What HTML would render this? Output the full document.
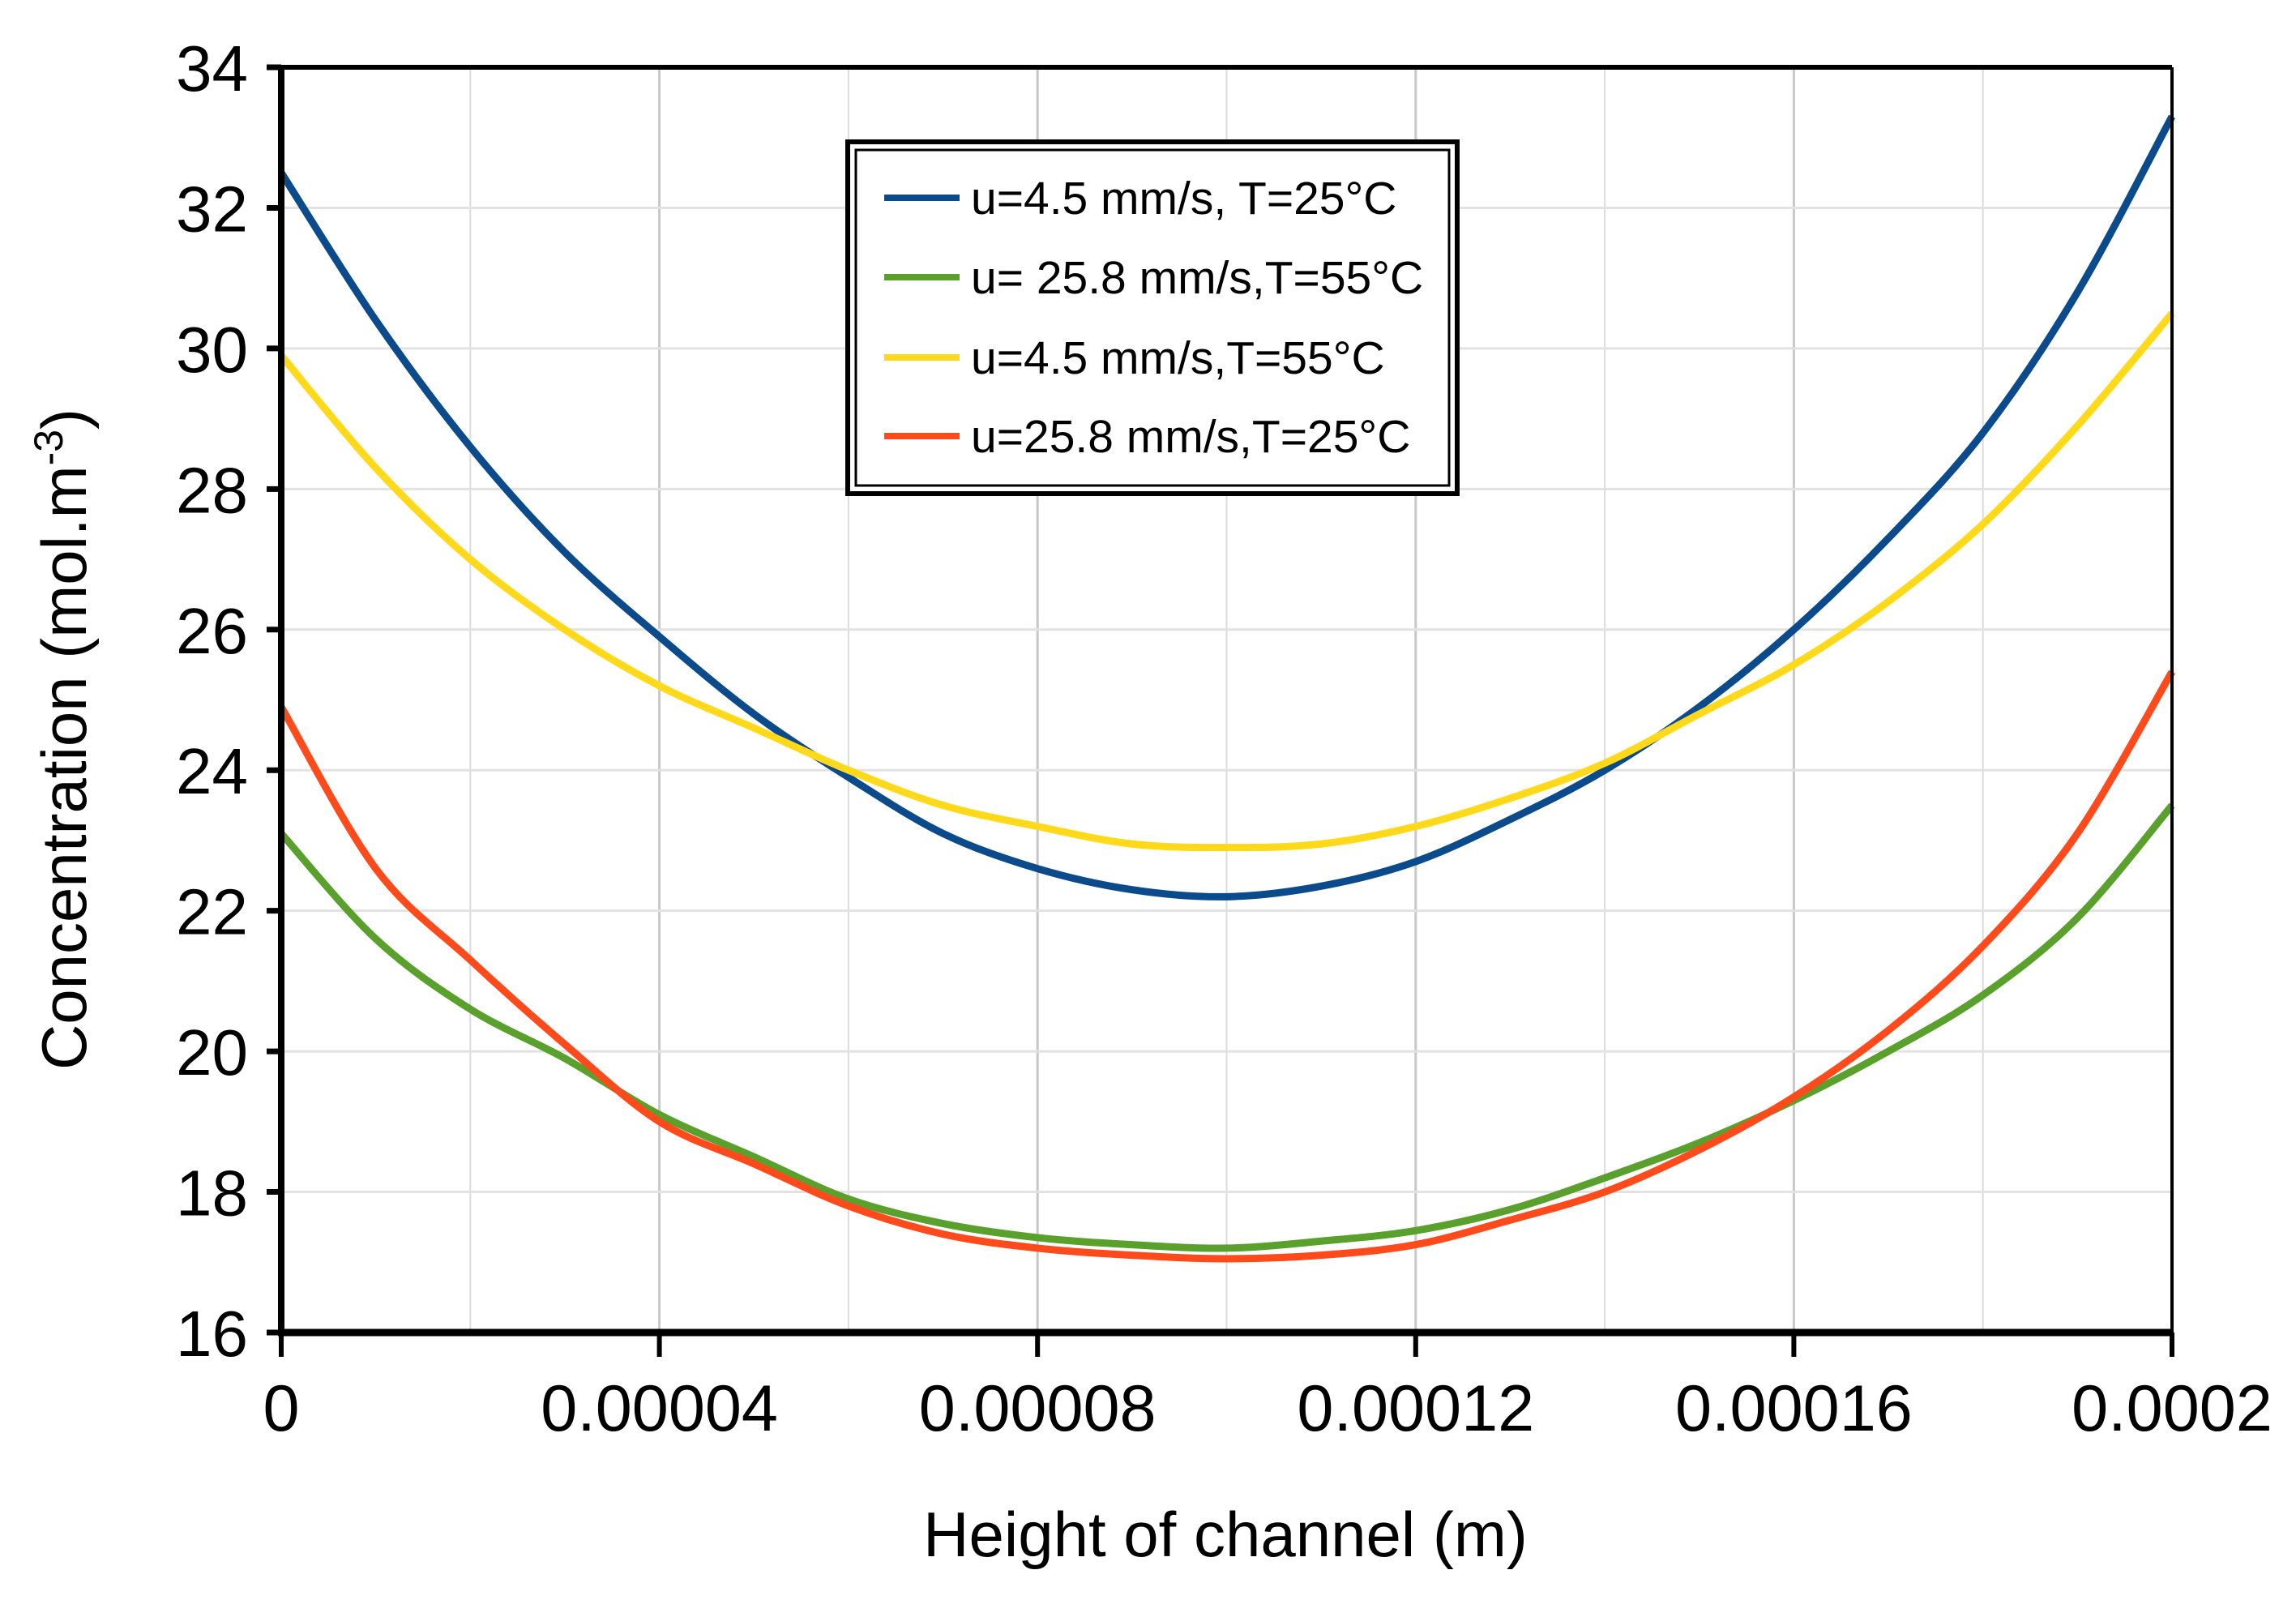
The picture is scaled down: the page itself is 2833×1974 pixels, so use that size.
<!DOCTYPE html>
<html><head><meta charset="utf-8"><style>
html,body{margin:0;padding:0;background:#fff;}
svg{display:block;font-family:"Liberation Sans",sans-serif;}
</style></head><body>
<svg id="chart" width="2833" height="1974" viewBox="0 0 2833 1974">
<g id="grid"></g>
<g id="series"></g>
<g id="axes"></g>
<text x="1512" y="1920" font-size="78" text-anchor="middle">Height of channel (m)</text>
<text transform="translate(106,912) rotate(-90)" font-size="78" text-anchor="middle">Concentration (mol.m<tspan dy="-29" font-size="50">-3</tspan><tspan dy="29">)</tspan></text>
<g>
<rect x="1046" y="175" width="752" height="434" fill="#fff" stroke="#000" stroke-width="6"/>
<rect x="1056" y="185" width="732" height="414" fill="none" stroke="#000" stroke-width="3"/>
<g><line x1="1091" y1="244" x2="1184" y2="244" stroke="#0b4a8b" stroke-width="8"/><text x="1198" y="264" font-size="57">u=4.5 mm/s, T=25°C</text></g>
<g><line x1="1091" y1="342" x2="1184" y2="342" stroke="#5aa02c" stroke-width="8"/><text x="1198" y="362" font-size="57">u= 25.8 mm/s,T=55°C</text></g>
<g><line x1="1091" y1="441" x2="1184" y2="441" stroke="#ffd91a" stroke-width="8"/><text x="1198" y="461" font-size="57">u=4.5 mm/s,T=55°C</text></g>
<g><line x1="1091" y1="538" x2="1184" y2="538" stroke="#ff4a1c" stroke-width="8"/><text x="1198" y="558" font-size="57">u=25.8 mm/s,T=25°C</text></g>
</g>
</svg>
<script>
const xValues = [0,0.00001,0.00002,0.00003,0.00004,0.00005,0.00006,0.00007,0.00008,0.00009,0.0001,0.00011,0.00012,0.00013,0.00014,0.00015,0.00016,0.00017,0.00018,0.00019,0.0002];
const blueValues = [32.5,30.4,28.6,27.1,25.9,24.8,23.9,23.1,22.6,22.3,22.2,22.35,22.7,23.3,24.0,24.9,26.0,27.3,28.8,30.8,33.3];
const yellowValues = [29.9,28.3,27.0,26.0,25.2,24.6,24.0,23.5,23.2,22.95,22.9,22.95,23.2,23.6,24.1,24.8,25.5,26.4,27.5,28.9,30.5];
const greenValues = [23.1,21.6,20.6,19.9,19.1,18.5,17.9,17.55,17.35,17.25,17.2,17.3,17.45,17.75,18.2,18.7,19.3,20.0,20.8,21.9,23.5];
const redValues = [24.9,22.6,21.3,20.1,19.0,18.4,17.8,17.4,17.2,17.1,17.05,17.1,17.25,17.6,18.0,18.6,19.35,20.3,21.5,23.1,25.4];
const xTicks = [0,0.00004,0.00008,0.00012,0.00016,0.0002];
const xTickLabels = ["0","0.00004","0.00008","0.00012","0.00016","0.0002"];
const yTicks = [16,18,20,22,24,26,28,30,32,34];

(function(){
const L=347,R=2680,T=83,B=1644,xMin=0,xMax=0.0002,yMin=16,yMax=34;
const NS="http://www.w3.org/2000/svg";
function xs(v){return L+(v-xMin)/(xMax-xMin)*(R-L);}
function ys(v){return B-(v-yMin)/(yMax-yMin)*(B-T);}
function mk(tag,attrs,parent){const e=document.createElementNS(NS,tag);for(const k in attrs)e.setAttribute(k,attrs[k]);parent.appendChild(e);return e;}
const grid=document.getElementById('grid'),axes=document.getElementById('axes'),ser=document.getElementById('series');
for(let i=0;i<xTicks.length;i++){
  const v=xTicks[i];
  const g=mk('line',{x1:xs(v),x2:xs(v),y1:T,y2:B,stroke:'#c8c8c8','stroke-width':3},grid);
  
  
  if(i<xTicks.length-1){
    const m=(xTicks[i]+xTicks[i+1])/2;
    const g2=mk('line',{x1:xs(m),x2:xs(m),y1:T,y2:B,stroke:'#dcdcdc','stroke-width':2},grid);
    
    
  }
}
yTicks.forEach(v=>{
  const g=mk('line',{x1:L,x2:R,y1:ys(v),y2:ys(v),stroke:'#e2e2e2','stroke-width':3},grid);
  
  
  const t=mk('line',{x1:L-18,x2:L,y1:ys(v),y2:ys(v),stroke:'#000','stroke-width':7},axes);
  
  
  const lb=mk('text',{x:306,y:ys(v)+29,'font-size':80,'text-anchor':'end'},axes);
  lb.textContent=String(v);
  
  
});
xTicks.forEach((v,i)=>{
  const t=mk('line',{x1:xs(v),x2:xs(v),y1:B,y2:B+30,stroke:'#000','stroke-width':6},axes);
  
  
  const lb=mk('text',{x:xs(v),y:1765,'font-size':81,'text-anchor':'middle'},axes);
  lb.textContent=xTickLabels[i];
  
  
});
const topBorder=mk('line',{x1:L,x2:R,y1:T,y2:T,stroke:'#000','stroke-width':6},axes);


const rightBorder=mk('line',{x1:R,x2:R,y1:T,y2:B,stroke:'#000','stroke-width':4},axes);


const yAxisLine=mk('line',{x1:L,x2:L,y1:T-3,y2:B+4,stroke:'#000','stroke-width':8},axes);


const xAxisLine=mk('line',{x1:L-4,x2:R,y1:B,y2:B,stroke:'#000','stroke-width':9},axes);



function smoothPath(xsArr,ysArr){
  const p=xsArr.map((x,i)=>[xs(x),ys(ysArr[i])]);
  let d='M'+p[0][0]+','+p[0][1];
  for(let i=0;i<p.length-1;i++){
    const p0=p[Math.max(0,i-1)],p1=p[i],p2=p[i+1],p3=p[Math.min(p.length-1,i+2)];
    const c1=[p1[0]+(p2[0]-p0[0])/6,p1[1]+(p2[1]-p0[1])/6];
    const c2=[p2[0]-(p3[0]-p1[0])/6,p2[1]-(p3[1]-p1[1])/6];
    d+=' C'+c1+' '+c2+' '+p2;
  }
  return d;
}
const seriesList=[[blueValues,'#0b4a8b','series-blue-u4.5-t25'],[yellowValues,'#ffd91a','series-yellow-u4.5-t55'],[greenValues,'#5aa02c','series-green-u25.8-t55'],[redValues,'#ff4a1c','series-red-u25.8-t25']];
seriesList.forEach(s=>{
  const p=mk('path',{d:smoothPath(xValues,s[0]),fill:'none',stroke:s[1],'stroke-width':9,'stroke-linejoin':'round'},ser);
  
  
});
})();
</script>
</body></html>
